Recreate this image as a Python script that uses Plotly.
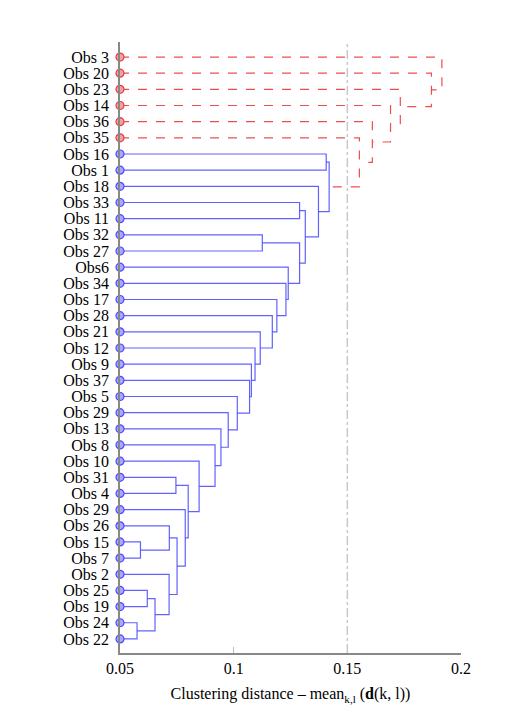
import plotly.graph_objects as go

leaves = ['Obs 3', 'Obs 20', 'Obs 23', 'Obs 14', 'Obs 36', 'Obs 35', 'Obs 16', 'Obs 1',
          'Obs 18', 'Obs 33', 'Obs 11', 'Obs 32', 'Obs 27', 'Obs6', 'Obs 34', 'Obs 17',
          'Obs 28', 'Obs 21', 'Obs 12', 'Obs 9', 'Obs 37', 'Obs 5', 'Obs 29', 'Obs 13',
          'Obs 8', 'Obs 10', 'Obs 31', 'Obs 4', 'Obs 29', 'Obs 26', 'Obs 15', 'Obs 7',
          'Obs 2', 'Obs 25', 'Obs 19', 'Obs 24', 'Obs 22']

# merges: children node ids (leaf index, or 37 + merge index) and height
merge_a = [35, 33, 38, 32, 30, 29, 42, 28, 26, 45, 25, 24, 23, 22, 21, 20, 19, 18,
           17, 16, 15, 14, 13, 11, 60, 9, 62, 8, 6, 65, 5, 4, 3, 2, 1, 0]
merge_b = [36, 34, 37, 39, 31, 41, 40, 43, 27, 44, 46, 47, 48, 49, 50, 51, 52, 53,
           54, 55, 56, 57, 58, 12, 59, 10, 61, 63, 7, 64, 66, 67, 68, 69, 70, 71]
heights = [0.0575, 0.062, 0.0654, 0.0716, 0.059, 0.0717, 0.0751, 0.0787, 0.0746, 0.080,
           0.0848, 0.0918, 0.0944, 0.0976, 0.1016, 0.107, 0.1078, 0.1094, 0.1117, 0.117,
           0.119, 0.123, 0.124, 0.1126, 0.129, 0.129, 0.1315, 0.1373, 0.1407, 0.142,
           0.1553, 0.161, 0.169, 0.1733, 0.187, 0.1916]
threshold = 0.15
base = 0.05

n = len(leaves)
pos_y = [n - 1 - i for i in range(n)]
pos_x = [base] * n

blue_x, blue_y, red_x, red_y = [], [], [], []
for a, b, h in zip(merge_a, merge_b, heights):
    xs = [pos_x[a], h, h, pos_x[b], None]
    ys = [pos_y[a], pos_y[a], pos_y[b], pos_y[b], None]
    if h > threshold:
        red_x += xs
        red_y += ys
    else:
        blue_x += xs
        blue_y += ys
    pos_x.append(h)
    pos_y.append((pos_y[a] + pos_y[b]) / 2)

fig = go.Figure()
fig.add_trace(go.Scatter(x=blue_x, y=blue_y, mode='lines',
                         line=dict(color='rgba(70,70,255,0.85)', width=1.2)))
fig.add_trace(go.Scatter(x=red_x, y=red_y, mode='lines',
                         line=dict(color='rgba(235,60,60,0.9)', width=1.2, dash='dash')))

n_red = 6
fig.add_trace(go.Scatter(x=[base] * n, y=pos_y[:n], mode='markers', cliponaxis=False,
                         marker=dict(size=8,
                                     color=['#f2a0a0'] * n_red + ['#a8a8ff'] * (n - n_red),
                                     line=dict(color=['#e04040'] * n_red + ['#4a4aff'] * (n - n_red), width=1.2))))

fig.add_vline(x=threshold, line=dict(color='#c8c8c8', width=1.5, dash='dashdot'))

fig.update_layout(
    width=518, height=725, showlegend=False,
    plot_bgcolor='white', paper_bgcolor='white',
    margin=dict(l=112, r=65, t=34, b=80),
    font=dict(family='Liberation Serif, DejaVu Serif, serif', size=16, color='black'),
)
fig.update_xaxes(range=[0.05, 0.2], tickvals=[0.05, 0.1, 0.15, 0.2],
                 ticktext=['0.05', '0.1', '0.15', '0.2'], automargin=False,
                 showgrid=False, zeroline=False, showline=True, linecolor='#888', linewidth=1.5,
                 ticks='inside', ticklen=6, tickcolor='#bbb',
                 title=dict(text='Clustering distance – mean<sub>k,l</sub> (<b>d</b>(k, l))',
                            font=dict(size=16), standoff=12))
fig.update_yaxes(range=[-0.87, n - 1 + 0.93], tickvals=pos_y[:n], ticktext=leaves,
                 showgrid=False, zeroline=False, showline=True, linecolor='#888', linewidth=1.5,
                 ticks='', ticklabelstandoff=6, automargin=False)

fig.write_html('out.html')
